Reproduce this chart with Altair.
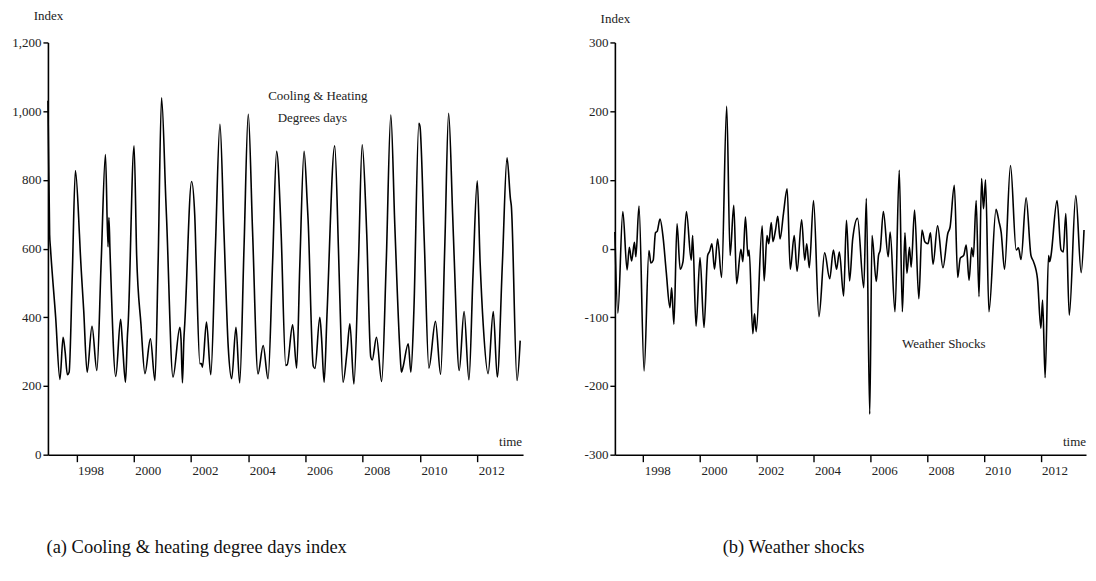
import altair as alt
import pandas as pd

# ---------------- data ----------------
# Cooling & heating degree days index: (decimal year, value) turning points
chdd_time = [
    1997.00, 1997.06, 1997.09, 1997.27, 1997.42, 1997.53, 1997.60, 1997.68, 1997.74, 1997.85, 1997.96,
    1998.10, 1998.13, 1998.25, 1998.37, 1998.54, 1998.71, 1998.86, 1999.01,
    1999.10, 1999.13, 1999.17, 1999.37, 1999.54, 1999.60, 1999.71, 1999.78, 1999.80, 2000.01,
    2000.10, 2000.25, 2000.39, 2000.58, 2000.74, 2000.85, 2000.97,
    2001.12, 2001.15, 2001.37, 2001.61, 2001.65, 2001.70, 2001.75, 2001.78, 2002.02,
    2002.13, 2002.18, 2002.31, 2002.36, 2002.40, 2002.54, 2002.69, 2002.85, 2003.01,
    2003.15, 2003.30, 2003.42, 2003.57, 2003.70, 2003.85, 2004.00,
    2004.15, 2004.34, 2004.52, 2004.69, 2004.85, 2004.99,
    2005.12, 2005.15, 2005.31, 2005.36, 2005.55, 2005.69, 2005.80, 2005.95,
    2006.06, 2006.09, 2006.27, 2006.33, 2006.50, 2006.56, 2006.65, 2006.75, 2007.02,
    2007.15, 2007.20, 2007.31, 2007.45, 2007.55, 2007.69, 2007.85, 2007.98,
    2008.11, 2008.14, 2008.28, 2008.33, 2008.48, 2008.66, 2008.82, 2008.98,
    2009.12, 2009.30, 2009.35, 2009.40, 2009.59, 2009.68, 2009.77, 2009.79, 2009.96,
    2010.00, 2010.15, 2010.31, 2010.54, 2010.72, 2010.87, 2011.00,
    2011.14, 2011.20, 2011.37, 2011.54, 2011.71, 2011.85, 2012.00,
    2012.10, 2012.21, 2012.38, 2012.56, 2012.70, 2012.88, 2013.04,
    2013.16, 2013.19, 2013.39, 2013.50,
]
chdd_value = [
    1030, 640, 600, 400, 219, 342, 300, 233, 240, 520, 827,
    643, 590, 420, 240, 374, 245, 560, 874,
    605, 690, 590, 228, 394, 330, 211, 350, 376, 899,
    580, 380, 236, 337, 216, 560, 1039,
    740, 678, 226, 371, 337, 209, 337, 380, 795,
    696, 560, 265, 265, 255, 386, 233, 600, 962,
    650, 313, 221, 371, 209, 600, 991,
    650, 235, 318, 221, 560, 883,
    706, 640, 260, 262, 378, 252, 550, 883,
    733, 684, 258, 251, 400, 340, 211, 407, 899,
    600, 454, 211, 300, 381, 206, 560, 902,
    706, 640, 284, 276, 342, 213, 560, 989,
    667, 300, 240, 253, 323, 240, 380, 430, 965,
    955, 620, 252, 388, 234, 620, 994,
    700, 560, 245, 417, 218, 520, 797,
    560, 376, 236, 417, 226, 560, 864,
    744, 725, 216, 332,
]

# Weather shocks: (decimal year, value) turning points
shock_time = [
    1997.00, 1997.105, 1997.28, 1997.43, 1997.51, 1997.59, 1997.69, 1997.74, 1997.85,
    1998.03, 1998.20, 1998.27, 1998.35, 1998.43, 1998.49, 1998.59, 1998.70, 1998.81, 1998.94,
    1999.00, 1999.08, 1999.19, 1999.30, 1999.40, 1999.52, 1999.69, 1999.74, 1999.86,
    2000.00, 2000.14, 2000.27, 2000.34, 2000.42, 2000.51, 2000.62, 2000.76, 2000.94,
    2001.06, 2001.19, 2001.29, 2001.44, 2001.51, 2001.60, 2001.69, 2001.73, 2001.86, 2001.92, 2001.98,
    2002.19, 2002.26, 2002.36, 2002.42, 2002.51, 2002.57, 2002.66, 2002.74, 2002.82, 2002.94,
    2003.07, 2003.18, 2003.32, 2003.42, 2003.58, 2003.69, 2003.76, 2003.85,
    2004.00, 2004.19, 2004.39, 2004.57, 2004.70, 2004.81, 2004.91,
    2005.06, 2005.16, 2005.27, 2005.38, 2005.55, 2005.77, 2005.86, 2005.98,
    2006.06, 2006.21, 2006.29, 2006.35, 2006.46, 2006.63, 2006.70, 2006.87,
    2007.02, 2007.13, 2007.22, 2007.29, 2007.38, 2007.44, 2007.56, 2007.71, 2007.82, 2007.92,
    2008.03, 2008.12, 2008.21, 2008.37, 2008.56, 2008.73, 2008.81, 2008.96,
    2009.08, 2009.17, 2009.29, 2009.38, 2009.48, 2009.57, 2009.63, 2009.73, 2009.83, 2009.92, 2009.99,
    2010.06, 2010.18, 2010.43, 2010.53, 2010.61, 2010.73, 2010.94,
    2011.14, 2011.22, 2011.31, 2011.49, 2011.66, 2011.75, 2011.89,
    2012.01, 2012.07, 2012.16, 2012.28, 2012.32, 2012.36, 2012.58, 2012.72, 2012.80, 2012.89,
    2013.01, 2013.24, 2013.43, 2013.53,
]
shock_value = [
    24, -94, 54, -31, 2, -18, 9, -12, 62,
    -178, -3, -21, -17, 23, 25, 43, 16, -34, -86,
    -57, -110, 36, -30, -19, 54, -17, 19, -113,
    -13, -115, -10, -4, 7, -30, 14, -42, 207,
    -10, 63, -51, -1, -19, 46, -11, -2, -124, -95, -121,
    33, -47, 19, 7, 38, 10, 27, 47, 14, 51,
    87, -30, 19, -33, 42, -17, 7, -28,
    70, -99, -6, -44, -2, -30, -5,
    -69, 41, -47, 14, 44, -57, 73, -241,
    19, -48, -10, -2, 54, -12, 24, -92,
    114, -92, 23, -36, 2, -27, 56, -73, 27, 10,
    7, 23, -23, 33, -28, 22, 31, 92,
    -42, -14, -10, 5, -46, 1, -12, 70, -70, 102, 58,
    100, -92, 57, 40, 24, -30, 121,
    -2, 1, -16, 74, -10, -19, -44,
    -116, -75, -188, -10, -19, -12, 70, -2, -5, 51,
    -97, 77, -35, 27,
]

year_ticks = list(range(1998, 2014))
left_ticks = [0, 200, 400, 600, 800, 1000, 1200]
right_ticks = [-300, -200, -100, 0, 100, 200, 300]

left_note = ["Cooling & Heating", "Degrees days"]
left_note_t = [2006.43, 2006.24]
left_note_v = [1043, 980]
right_note = ["Weather Shocks"]
right_note_t = [2008.59]
right_note_v = [-139]
captions = ["(a) Cooling & heating degree days index", "(b) Weather shocks"]

# ---------------- chart ----------------
FONT = "Liberation Serif"
W_L, W_R, H = 476, 472, 413
X_DOMAIN = [1997, 2013.6]

chdd = pd.DataFrame({"t": chdd_time, "v": chdd_value})
shock = pd.DataFrame({"t": shock_time, "v": shock_value})


def x_axis(title_x):
    return alt.Axis(
        values=year_ticks,
        labelExpr="datum.value % 2 == 0 ? toString(datum.value) : ''",
        labelOffset=14, labelPadding=3, labelFontSize=13, labelFont=FONT,
        labelColor="#222", labelOverlap=False, labelFlush=False,
        tickSize=7, tickWidth=1.4, tickColor="#000",
        domainColor="#000", domainWidth=1.6, grid=False,
        title="time", titleFont=FONT, titleFontSize=13, titleFontWeight="normal",
        titleColor="#222", titleX=title_x, titleY=-13, titleAlign="center",
        titleBaseline="middle", titleAngle=0,
    )


def y_axis(vals, fmt_expr, title_y):
    return alt.Axis(
        values=vals, labelExpr=fmt_expr,
        labelFontSize=13, labelFont=FONT, labelColor="#222", labelPadding=2,
        tickSize=5, tickWidth=1.4, tickColor="#000",
        domainColor="#000", domainWidth=1.6, grid=False,
        title="Index", titleFont=FONT, titleFontSize=13, titleFontWeight="normal",
        titleColor="#222", titleAngle=0, titleX=0, titleY=title_y,
        titleAlign="center", titleBaseline="middle",
    )


def caption_layer(text, cx):
    return alt.Chart(pd.DataFrame({"c": [text]})).mark_text(
        font=FONT, fontSize=18.5, color="#111", align="center", baseline="middle"
    ).encode(text="c:N", x=alt.value(cx), y=alt.value(506))


left_line = alt.Chart(chdd).mark_line(
    color="#000", strokeWidth=1.6, interpolate="monotone"
).encode(
    x=alt.X("t:Q", scale=alt.Scale(domain=X_DOMAIN, nice=False, zero=False), axis=x_axis(463)),
    y=alt.Y("v:Q", scale=alt.Scale(domain=[0, 1200], nice=False),
            axis=y_axis(left_ticks, "format(datum.value, ',d')", -27)),
)
left_text = alt.Chart(pd.DataFrame({"t": left_note_t, "v": left_note_v, "s": left_note})).mark_text(
    font=FONT, fontSize=13, color="#222", align="center", baseline="middle"
).encode(x="t:Q", y="v:Q", text="s:N")
left = alt.layer(left_line, left_text, caption_layer(captions[0], 149)).properties(width=W_L, height=H)

right_line = alt.Chart(shock).mark_line(
    color="#000", strokeWidth=1.6, interpolate="monotone"
).encode(
    x=alt.X("t:Q", scale=alt.Scale(domain=X_DOMAIN, nice=False, zero=False), axis=x_axis(460)),
    y=alt.Y("v:Q", scale=alt.Scale(domain=[-300, 300], nice=False),
            axis=y_axis(right_ticks, "toString(datum.value)", -24)),
)
right_text = alt.Chart(pd.DataFrame({"t": right_note_t, "v": right_note_v, "s": right_note})).mark_text(
    font=FONT, fontSize=13, color="#222", align="center", baseline="middle"
).encode(x="t:Q", y="v:Q", text="s:N")
right = alt.layer(right_line, right_text, caption_layer(captions[1], 179)).properties(width=W_R, height=H)

chart = alt.hconcat(left, right, spacing=60).properties(
    padding={"left": 3, "top": 1, "right": 0, "bottom": 0},
    background="white",
).configure_view(stroke=None)

chart.save("out.html", embed_options={"renderer": "svg", "actions": False})
